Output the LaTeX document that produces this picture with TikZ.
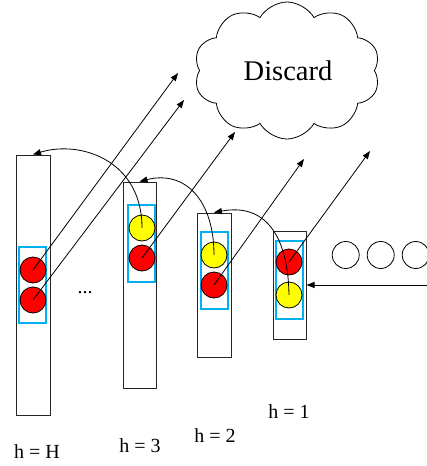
\documentclass[tikz,border=0pt]{standalone}
\usepackage{fontspec}
\setmainfont{Liberation Serif}
\usetikzlibrary{arrows.meta,shapes.symbols}
\definecolor{boxblue}{RGB}{0,176,240}
\definecolor{ballred}{RGB}{255,0,0}
\definecolor{ballyellow}{RGB}{255,255,0}
\begin{document}
\begin{tikzpicture}[x=1pt,y=-1pt,
  column/.style={draw=black!85,line width=1pt,minimum width=#1,inner sep=0pt},
  bluebox/.style={draw=boxblue,line width=1.5pt,inner sep=0pt},
  redball/.style={circle,draw=black,line width=0.8pt,fill=ballred,minimum size=26pt,inner sep=0pt},
  yellowball/.style={circle,draw=black,line width=0.8pt,fill=ballyellow,minimum size=26pt,inner sep=0pt},
  emptyball/.style={circle,draw=black,line width=0.8pt,minimum size=27pt,inner sep=0pt},
  arr/.style={-{Triangle[length=8pt,width=6pt]},line width=0.8pt},
  lab/.style={font=\fontsize{20}{22}\selectfont,anchor=base,inner sep=0pt}]
\useasboundingbox (0,0) rectangle (427,466);
\clip (0,0) rectangle (427,466);
% columns
\node[column=34pt,minimum height=260pt] (colH) at (33,285) {};
\node[column=33pt,minimum height=206pt] (col3) at (139.5,285) {};
\node[column=34pt,minimum height=144pt] (col2) at (214,285) {};
\node[column=33pt,minimum height=108pt] (col1) at (289.5,285) {};
% blue boxes
\node[bluebox,minimum width=27pt,minimum height=76pt] (bH) at (32.5,285) {};
\node[bluebox,minimum width=27pt,minimum height=77pt] (b3) at (141.5,243.5) {};
\node[bluebox,minimum width=27pt,minimum height=77pt] (b2) at (214.5,270.5) {};
\node[bluebox,minimum width=27pt,minimum height=78pt] (b1) at (289.5,280) {};
% balls
\node[redball] (hA) at (33,270) {};
\node[redball] (hB) at (33,300) {};
\node[yellowball] (y3) at (142,228) {};
\node[redball] (r3) at (142,258) {};
\node[yellowball] (y2) at (214,255) {};
\node[redball] (r2) at (214,285) {};
\node[redball] (r1) at (289,262) {};
\node[yellowball] (y1) at (289,295) {};
% waiting balls
\node[emptyball] (e1) at (345.7,255) {};
\node[emptyball] (e2) at (380.7,255) {};
\node[emptyball] (e3) at (415.7,255) {};
% cloud
\node[cloud,draw,line width=0.8pt,cloud puffs=10,cloud puff arc=120,cloud ignores aspect,
  minimum width=186pt,minimum height=137pt,inner sep=0pt] (cloud) at (287,70.5) {};
\node[font=\fontsize{28.5}{30}\selectfont,anchor=base,inner sep=0pt] (disc) at (288,80) {Discard};
% dots
\node[lab] (dots) at (85,293) {...};
% labels
\node[lab] (lH) at (37,458) {h = H};
\node[lab] (l3) at (140,452) {h = 3};
\node[lab] (l2) at (215,442) {h = 2};
\node[lab] (l1) at (289,418) {h = 1};
% free ends
\coordinate (t1) at (178,73);
\coordinate (t2) at (184,100);
\coordinate (t3) at (235,132);
\coordinate (t4) at (304,159);
\coordinate (t5) at (370,151);
\coordinate (src) at (430,285);
% straight arrows
\draw[arr] (hA.center) -- (t1);
\draw[arr] (hB.center) -- (t2);
\draw[arr] (r3.center) -- (t3);
\draw[arr] (r2.center) -- (t4);
\draw[arr] (r1.center) -- (t5);
\draw[arr] (src) -- (col1.east);
% curved arrows
\draw[arr] (y3.center) .. controls (142,160) and (80,140) .. (colH.north);
\draw[arr] (y2.center) .. controls (214,200) and (185,170) .. (col3.north);
\draw[arr] (y1.center) .. controls (288,235) and (265,203) .. (col2.north);
\end{tikzpicture}
\end{document}
